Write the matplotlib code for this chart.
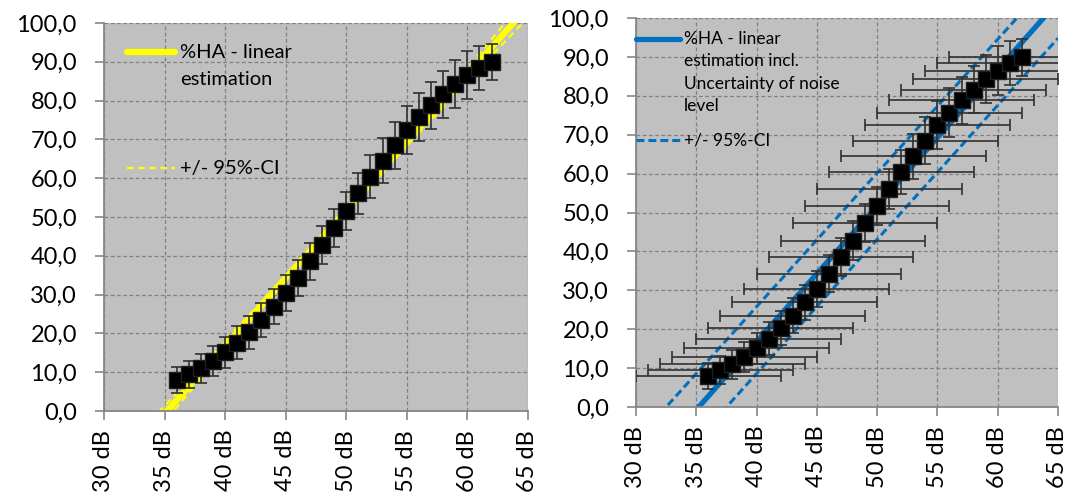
import numpy as np
import matplotlib
matplotlib.use("Agg")
import matplotlib.pyplot as plt
from matplotlib.ticker import FuncFormatter, MultipleLocator

plt.rcParams['font.family'] = ['Lato', 'DejaVu Sans']

# noise level (dB) and %HA values
db = [36, 37, 38, 39, 40, 41, 42, 43, 44, 45, 46, 47, 48, 49,
      50, 51, 52, 53, 54, 55, 56, 57, 58, 59, 60, 61, 62]
ha = [8.0, 9.5, 11.0, 12.9, 15.1, 17.6, 20.3, 23.5, 26.9, 30.4, 34.3, 38.6, 42.8, 47.2,
      51.6, 56.1, 60.4, 64.5, 68.5, 72.4, 75.7, 78.8, 81.6, 84.3, 86.5, 88.4, 89.9]
ha_err = [3.3, 3.5, 3.7, 3.8, 4.0, 4.2, 4.3, 4.4, 4.5, 4.6, 4.7, 4.8, 4.9, 4.9,
          4.9, 5.2, 5.6, 5.8, 6.0, 6.2, 6.2, 6.1, 6.0, 6.1, 6.2, 5.7, 4.7]
db_err = 6.0  # uncertainty of noise level

# linear estimation
fit_x = [30, 65]
fit_y = [-18.2, 104.2]

# left chart: 95%-CI
ci_x = [30, 35, 40, 45, 50, 55, 60, 65]
ci_lo = [-21.7, -2.7, 15.6, 33.6, 51.1, 68.3, 85.1, 101.4]
ci_hi = [-14.7, 1.3, 18.0, 35.0, 52.3, 70.1, 88.3, 107.0]

# right chart: 95%-CI incl. uncertainty of noise level
ci2_x = [30, 65]
ci2_hi = [-8.6, 111.7]
ci2_lo = [-25.9, 94.8]

YELLOW = '#FFFF00'
BLUE = '#0070C0'
AXC = '#868686'

fig = plt.figure(figsize=(10.73, 5.0), dpi=100)
ax1 = fig.add_axes([0.0969, 0.178, 0.3951, 0.776])
ax2 = fig.add_axes([0.5927, 0.186, 0.3933, 0.778])


def style_axes(ax):
    ax.set_facecolor('#C0C0C0')
    ax.set_xlim(30, 65)
    ax.set_ylim(0, 100)
    ax.xaxis.set_major_locator(MultipleLocator(5))
    ax.yaxis.set_major_locator(MultipleLocator(10))
    ax.xaxis.set_major_formatter(FuncFormatter(lambda v, p: f"{int(round(v))} dB"))
    ax.yaxis.set_major_formatter(FuncFormatter(lambda v, p: f"{v:.1f}".replace('.', ',')))
    ax.grid(True, color='#808080', linestyle=(0, (3, 2)), linewidth=0.9)
    ax.set_axisbelow(True)
    for s in ['top', 'right']:
        ax.spines[s].set_visible(False)
    for s in ['left', 'bottom']:
        ax.spines[s].set_color(AXC)
        ax.spines[s].set_linewidth(1.3)
    ax.tick_params(axis='both', direction='out', length=6.5, width=1.2, color=AXC,
                   labelsize=17, labelcolor='black')
    ax.tick_params(axis='y', pad=13)
    ax.tick_params(axis='x', pad=7, labelrotation=90)


style_axes(ax1)
style_axes(ax2)

# left chart
ax1.plot(ci_x, ci_lo, color=YELLOW, lw=1.6, dashes=(3, 2), zorder=2)
ax1.plot(ci_x, ci_hi, color=YELLOW, lw=1.6, dashes=(3, 2), zorder=2)
ax1.plot(fit_x, fit_y, color=YELLOW, lw=4.5, zorder=2)
ax1.errorbar(db, ha, yerr=ha_err, fmt='none', ecolor='#303030', elinewidth=1.2,
             capsize=4, capthick=1.2, zorder=3)
ax1.plot(db, ha, 's', color='black', ms=11.5, mec='#202020', zorder=4)

# right chart
ax2.plot(ci2_x, ci2_hi, color=BLUE, lw=2.2, dashes=(2.6, 1.3), zorder=2)
ax2.plot(ci2_x, ci2_lo, color=BLUE, lw=2.2, dashes=(2.6, 1.3), zorder=2)
ax2.plot(fit_x, fit_y, color=BLUE, lw=3.8, zorder=2)
ax2.errorbar(db, ha, xerr=db_err, yerr=ha_err, fmt='none', ecolor='#303030',
             elinewidth=1.2, capsize=4, capthick=1.2, zorder=3)
ax2.plot(db, ha, 's', color='black', ms=11.5, mec='#202020', zorder=4)

# legends (Excel style, drawn by hand)
tr = ax1.transAxes
ax1.plot([0.054, 0.167], [0.925, 0.925], transform=tr, color=YELLOW, lw=4.5,
         solid_capstyle='round', clip_on=False, zorder=5)
ax1.text(0.179, 0.925, "%HA - linear", transform=tr, fontsize=14.5, va='center')
ax1.text(0.179, 0.855, "estimation", transform=tr, fontsize=14.5, va='center')
ax1.plot([0.054, 0.167], [0.626, 0.626], transform=tr, color=YELLOW, lw=1.6,
         dashes=(3, 2), clip_on=False, zorder=5)
ax1.text(0.179, 0.626, "+/- 95%-CI", transform=tr, fontsize=14.5, va='center')

tr = ax2.transAxes
ax2.plot([0.0, 0.104], [0.946, 0.946], transform=tr, color=BLUE, lw=3.8,
         solid_capstyle='round', clip_on=False, zorder=5)
for i, line in enumerate(["%HA - linear", "estimation incl.",
                          "Uncertainty of noise", "level"]):
    ax2.text(0.114, 0.946 - i * 0.0575, line, transform=tr, fontsize=12.5, va='center')
ax2.plot([0.0, 0.104], [0.686, 0.686], transform=tr, color=BLUE, lw=2.2,
         dashes=(2.6, 1.3), clip_on=False, zorder=5)
ax2.text(0.114, 0.686, "+/- 95%-CI", transform=tr, fontsize=12.5, va='center')

fig.savefig("out.png", dpi=100)
